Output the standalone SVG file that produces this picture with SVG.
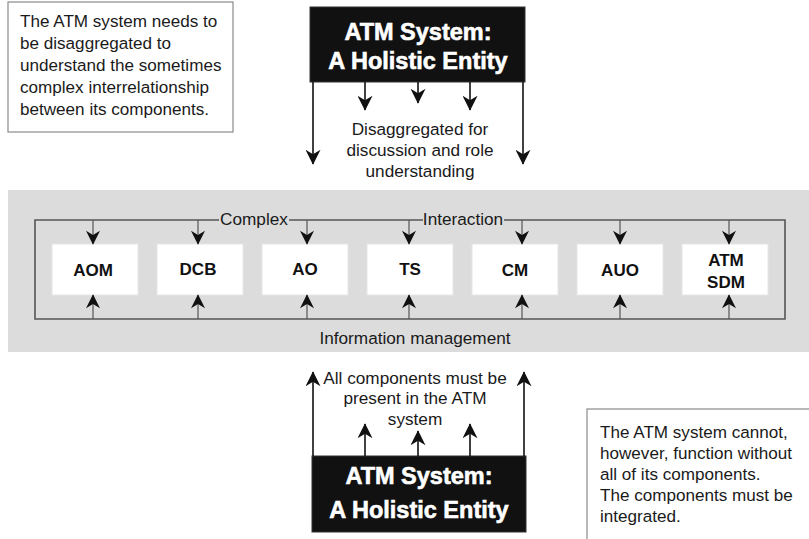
<svg xmlns="http://www.w3.org/2000/svg" width="809" height="539" viewBox="0 0 809 539">
  <defs>
    <style>
      .note { fill: #ffffff; stroke: #8a8a8a; stroke-width: 1.2; }
      .note-text { font-family: "Liberation Sans", Arial, sans-serif; font-size: 17.1px; fill: #1a1a1a; }
      .holistic { fill: #111111; stroke: #333; stroke-width: 1; }
      .holistic-text { font-family: "Liberation Sans", Arial, sans-serif; font-size: 23.5px; font-weight: bold; fill: #ffffff; stroke: #ffffff; stroke-width: 0.6; text-anchor: middle; }
      .label { font-family: "Liberation Sans", Arial, sans-serif; font-size: 17.2px; fill: #1a1a1a; text-anchor: middle; }
      .node rect { fill: #ffffff; stroke: #e6e6e6; stroke-width: 1; }
      .node text { font-family: "Liberation Sans", Arial, sans-serif; font-size: 17px; font-weight: bold; fill: #111; text-anchor: middle; }
      .wire { fill: none; stroke: #111; stroke-width: 1.6; }
      .frame { fill: none; stroke: #555; stroke-width: 1.6; }
      .tick { fill: none; stroke: #555; stroke-width: 1.2; }
    </style>
    <marker id="head" viewBox="0 0 10 10" refX="9.5" refY="5" markerWidth="17" markerHeight="14" markerUnits="userSpaceOnUse" orient="auto">
      <path d="M0,0 L10,5 L0,10 L3,5 Z" fill="#111"/>
    </marker>
    <marker id="headBig" viewBox="0 0 10 10" refX="9.5" refY="5" markerWidth="19" markerHeight="15" markerUnits="userSpaceOnUse" orient="auto">
      <path d="M0,0 L10,5 L0,10 L3,5 Z" fill="#111"/>
    </marker>
  </defs>

  <rect width="809" height="539" fill="#ffffff"/>

  <!-- explanatory note, top left -->
  <g id="note-top">
    <rect class="note" x="8" y="2" width="225" height="130"/>
    <text class="note-text" x="20" y="27">The ATM system needs to</text>
    <text class="note-text" x="20" y="49">be disaggregated to</text>
    <text class="note-text" x="20" y="71">understand the sometimes</text>
    <text class="note-text" x="20" y="93">complex interrelationship</text>
    <text class="note-text" x="20" y="115">between its components.</text>
  </g>

  <!-- holistic entity, top -->
  <g id="holistic-top">
    <rect class="holistic" x="310" y="7" width="215" height="75"/>
    <text class="holistic-text" x="418" y="40">ATM System:</text>
    <text class="holistic-text" x="418" y="69">A Holistic Entity</text>
  </g>
  <g id="disaggregated-label">
    <text class="label" x="420" y="135">Disaggregated for</text>
    <text class="label" x="420" y="156">discussion and role</text>
    <text class="label" x="420" y="177">understanding</text>
  </g>

  <!-- grey band holding the components -->
  <g id="component-band">
    <rect x="8" y="190" width="801" height="162" fill="#dcdcdc"/>
    <path class="frame" d="M219,220 L35,220 L35,319 L785,319 L785,220 L504,220 M423,220 L289,220"/>
    <text class="label" x="254" y="225">Complex</text>
    <text class="label" x="463" y="225">Interaction</text>
    <text class="label" x="415" y="344">Information management</text>
  </g>

  <!-- components -->
  <g id="node-aom" class="node"><rect x="52" y="244" width="86" height="51"/><text x="93" y="276">AOM</text></g>
  <g id="node-dcb" class="node"><rect x="157" y="244" width="86" height="51"/><text x="198" y="275">DCB</text></g>
  <g id="node-ao" class="node"><rect x="262" y="244" width="86" height="51"/><text x="305" y="275">AO</text></g>
  <g id="node-ts" class="node"><rect x="367" y="244" width="86" height="51"/><text x="410" y="275">TS</text></g>
  <g id="node-cm" class="node"><rect x="472" y="244" width="86" height="51"/><text x="515" y="276">CM</text></g>
  <g id="node-auo" class="node"><rect x="577" y="244" width="86" height="51"/><text x="620" y="276">AUO</text></g>
  <g id="node-atm-sdm" class="node"><rect x="682" y="244" width="86" height="51"/><text x="726" y="266">ATM</text><text x="726" y="288">SDM</text></g>

  <!-- holistic entity, bottom -->
  <g id="holistic-bottom">
    <rect class="holistic" x="312" y="456" width="214" height="76"/>
    <text class="holistic-text" x="419" y="484">ATM System:</text>
    <text class="holistic-text" x="419" y="518">A Holistic Entity</text>
  </g>
  <g id="integrated-label">
    <text class="label" x="415" y="384">All components must be</text>
    <text class="label" x="415" y="404">present in the ATM</text>
    <text class="label" x="415" y="425">system</text>
  </g>

  <!-- explanatory note, bottom right -->
  <g id="note-bottom">
    <rect class="note" x="587" y="409" width="230" height="140"/>
    <text class="note-text" x="600" y="438">The ATM system cannot,</text>
    <text class="note-text" x="600" y="459">however, function without</text>
    <text class="note-text" x="600" y="480">all of its components.</text>
    <text class="note-text" x="600" y="501">The components must be</text>
    <text class="note-text" x="600" y="522">integrated.</text>
  </g>

  <!-- connectors -->
  <g id="connectors">
    <!-- disaggregation arrows -->
    <line class="wire" x1="313" y1="82" x2="313" y2="164" marker-end="url(#headBig)"/>
    <line class="wire" x1="523" y1="82" x2="523" y2="164" marker-end="url(#headBig)"/>
    <line class="wire" x1="365" y1="82" x2="365" y2="110" marker-end="url(#headBig)"/>
    <line class="wire" x1="418" y1="82" x2="418" y2="103" marker-end="url(#headBig)"/>
    <line class="wire" x1="470" y1="82" x2="470" y2="110" marker-end="url(#headBig)"/>

    <!-- interaction arrows into components -->
    <line class="tick" x1="93" y1="220" x2="93" y2="244" marker-end="url(#head)"/>
    <line class="tick" x1="198" y1="220" x2="198" y2="244" marker-end="url(#head)"/>
    <line class="tick" x1="307" y1="220" x2="307" y2="244" marker-end="url(#head)"/>
    <line class="tick" x1="409" y1="220" x2="409" y2="244" marker-end="url(#head)"/>
    <line class="tick" x1="522" y1="220" x2="522" y2="244" marker-end="url(#head)"/>
    <line class="tick" x1="620" y1="220" x2="620" y2="244" marker-end="url(#head)"/>
    <line class="tick" x1="729" y1="220" x2="729" y2="244" marker-end="url(#head)"/>

    <!-- information management arrows into components -->
    <line class="tick" x1="93" y1="319" x2="93" y2="295" marker-end="url(#head)"/>
    <line class="tick" x1="198" y1="319" x2="198" y2="295" marker-end="url(#head)"/>
    <line class="tick" x1="307" y1="319" x2="307" y2="295" marker-end="url(#head)"/>
    <line class="tick" x1="409" y1="319" x2="409" y2="295" marker-end="url(#head)"/>
    <line class="tick" x1="522" y1="319" x2="522" y2="295" marker-end="url(#head)"/>
    <line class="tick" x1="620" y1="319" x2="620" y2="295" marker-end="url(#head)"/>
    <line class="tick" x1="729" y1="319" x2="729" y2="295" marker-end="url(#head)"/>

    <!-- integration arrows -->
    <line class="wire" x1="313" y1="456" x2="313" y2="372" marker-end="url(#headBig)"/>
    <line class="wire" x1="524" y1="456" x2="524" y2="372" marker-end="url(#headBig)"/>
    <line class="wire" x1="365" y1="456" x2="365" y2="424" marker-end="url(#headBig)"/>
    <line class="wire" x1="418" y1="456" x2="418" y2="431" marker-end="url(#headBig)"/>
    <line class="wire" x1="470" y1="456" x2="470" y2="424" marker-end="url(#headBig)"/>
  </g>
</svg>
